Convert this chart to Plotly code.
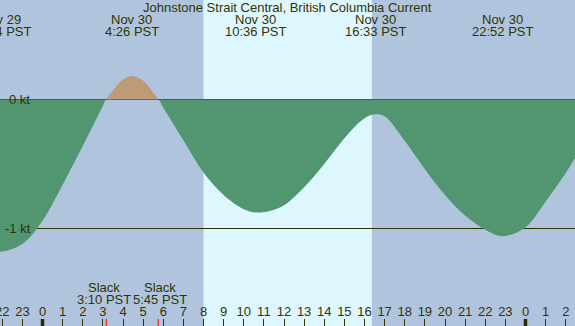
import plotly.graph_objects as go
import numpy as np

# Hours relative to Nov 30 00:00 PST, current in knots
times = [-3.0, -2.1, -1.0, 0.0, 1.0, 2.0, 3.0, 3.167, 3.5, 4.0, 4.45, 5.0, 5.5, 5.75,
         6.0, 7.0, 8.0, 9.0, 10.0, 10.6, 11.3, 12.0, 13.0, 14.0, 15.0, 16.0, 16.55,
         17.0, 18.0, 19.0, 20.0, 21.0, 22.0, 22.867, 24.0, 25.0, 26.0, 27.0]
values = [-1.16, -1.18, -1.12, -0.94, -0.66, -0.36, -0.05, 0.0, 0.072, 0.155, 0.183, 0.145, 0.055, 0.0,
          -0.063, -0.315, -0.565, -0.74, -0.85, -0.876, -0.865, -0.82, -0.68, -0.50, -0.30, -0.145, -0.115,
          -0.13, -0.32, -0.54, -0.74, -0.90, -1.01, -1.06, -0.99, -0.79, -0.57, -0.31]

event_times = [-2.1, 4.433, 10.6, 16.55, 22.867]
event_dates = ["Nov 29", "Nov 30", "Nov 30", "Nov 30", "Nov 30"]
event_labels = ["21:54 PST", "4:26 PST", "10:36 PST", "16:33 PST", "22:52 PST"]

slack_times = [3.167, 5.75]
slack_labels = ["3:10 PST", "5:45 PST"]

sunrise, sunset = 8.0, 16.37
hour_ticks = list(range(-2, 27))
hour_text = [str(h % 24) for h in hour_ticks]

title = "Johnstone Strait Central, British Columbia Current"

NIGHT = "#b0c4de"
DAY = "#def7ff"
GREEN = "#519670"
TAN = "#bf9a78"
TXT = "#333300"
FONT = "Liberation Sans"
W, H = 575, 326
XR = [-2.112, 26.46]
YR = [-1.7558, 0.7713]

t = np.array(times)
v = np.array(values)

fig = go.Figure()
fig.add_trace(go.Scatter(x=t, y=np.minimum(v, 0), mode="lines", line=dict(width=0, shape="spline", smoothing=1.0),
                         fill="tozeroy", fillcolor=GREEN, hoverinfo="skip"))
mask = (t >= slack_times[0] - 1e-6) & (t <= slack_times[1] + 1e-6)
fig.add_trace(go.Scatter(x=t[mask], y=np.maximum(v[mask], 0), mode="lines", line=dict(width=0, shape="spline", smoothing=1.0),
                         fill="tozeroy", fillcolor=TAN, hoverinfo="skip"))

shapes = [
    dict(type="rect", xref="x", yref="paper", x0=-10, x1=sunrise, y0=0, y1=1, fillcolor=NIGHT, line_width=0, layer="below"),
    dict(type="rect", xref="x", yref="paper", x0=sunrise, x1=sunset, y0=0, y1=1, fillcolor=DAY, line_width=0, layer="below"),
    dict(type="rect", xref="x", yref="paper", x0=sunset, x1=40, y0=0, y1=1, fillcolor=NIGHT, line_width=0, layer="below"),
    dict(type="line", xref="paper", yref="y", x0=0, x1=1, y0=0, y1=0, line=dict(color=TXT, width=1), layer="below"),
    dict(type="line", xref="paper", yref="y", x0=0, x1=1, y0=-1, y1=-1, line=dict(color=TXT, width=1), layer="below"),
]
for m in [0, 24]:
    shapes.append(dict(type="line", xref="x", yref="paper", x0=m, x1=m, y0=0, y1=7 / H,
                       line=dict(color="#2a2a00", width=3.5)))
for s in slack_times:
    shapes.append(dict(type="line", xref="x", yref="paper", x0=s, x1=s, y0=0, y1=7 / H,
                       line=dict(color="red", width=1)))

ann = [dict(text=title, x=0.5, xref="paper", y=1 - 7.5 / H, yref="paper", showarrow=False,
            xanchor="center", yanchor="middle", font=dict(size=13, color=TXT, family=FONT))]
for et, d, lab in zip(event_times, event_dates, event_labels):
    ann.append(dict(text=d, x=et, xref="x", y=1 - 19.5 / H, yref="paper", showarrow=False,
                    xanchor="center", yanchor="middle", font=dict(size=13, color=TXT, family=FONT)))
    ann.append(dict(text=lab, x=et, xref="x", y=1 - 31.7 / H, yref="paper", showarrow=False,
                    xanchor="center", yanchor="middle", font=dict(size=13, color=TXT, family=FONT)))
for st, lab, sh in zip(slack_times, slack_labels, [-2, 1.5]):
    ann.append(dict(text="Slack", x=st, xref="x", xshift=sh, y=1 - 287.3 / H, yref="paper", showarrow=False,
                    xanchor="center", yanchor="middle", font=dict(size=13, color=TXT, family=FONT)))
    ann.append(dict(text=lab, x=st, xref="x", xshift=sh, y=1 - 299.3 / H, yref="paper", showarrow=False,
                    xanchor="center", yanchor="middle", font=dict(size=13, color=TXT, family=FONT)))
ann.append(dict(text="0 kt", x=7 / W, xref="paper", y=0, yref="y", showarrow=False, xanchor="left",
                yanchor="middle", font=dict(size=13, color=TXT, family=FONT)))
ann.append(dict(text="-1 kt", x=3 / W, xref="paper", y=-1, yref="y", showarrow=False, xanchor="left",
                yanchor="middle", font=dict(size=13, color=TXT, family=FONT)))

fig.update_layout(
    width=W, height=H, margin=dict(l=0, r=0, t=0, b=0, pad=0),
    paper_bgcolor=NIGHT, plot_bgcolor=NIGHT, showlegend=False,
    shapes=shapes, annotations=ann,
    xaxis=dict(range=XR, showgrid=False, zeroline=False, showline=False, automargin=False,
               tickmode="array", tickvals=hour_ticks, ticktext=hour_text,
               ticks="inside", ticklen=7, tickwidth=1, tickcolor=TXT,
               ticklabelposition="inside", ticklabeloverflow="allow",
               tickfont=dict(size=13, color=TXT, family=FONT)),
    yaxis=dict(range=YR, visible=False, showgrid=False, zeroline=False, automargin=False),
)
fig.write_html("out.html", config={"displayModeBar": False, "staticPlot": True},
               post_script="document.body.style.margin='0';document.body.style.overflow='hidden';")
